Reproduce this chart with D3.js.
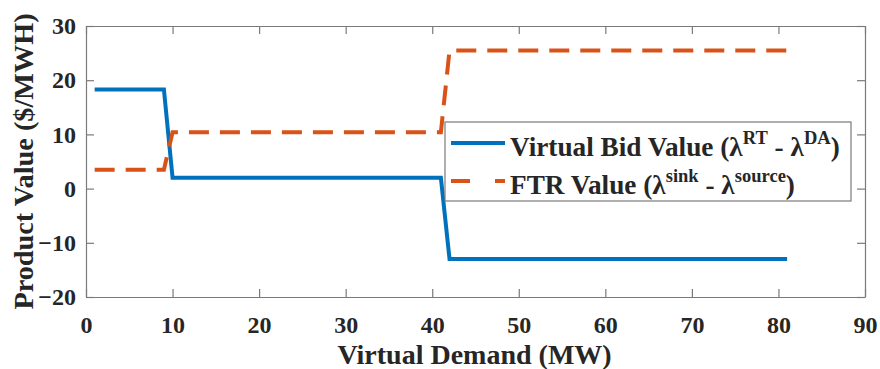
<!DOCTYPE html>
<html>
<head>
<meta charset="utf-8">
<script src="https://cdn.jsdelivr.net/npm/d3@7"></script>
<style>
  body { margin: 0; background: #fff; }
</style>
</head>
<body>
<svg width="880" height="369"></svg>
<script>
// data
const demand = [1, 9, 10, 41, 42, 81];
const bidValue = [18.3, 18.3, 2, 2, -13, -13];
const ftrValue = [3.5, 3.5, 10.4, 10.4, 25.5, 25.5];
const xTicks = [0, 10, 20, 30, 40, 50, 60, 70, 80, 90];
const yTicks = [-20, -10, 0, 10, 20, 30];

// bigger text is drawn at 25px and scaled up
const serif = '"Liberation Serif"';
let svg = d3.select('svg');
let margin = {left: 86, right: 15, top: 26, bottom: 72};
let width = 880, height = 369;
let x = d3.scaleLinear().domain([0, 90]).range([margin.left, width - margin.right]);
let y = d3.scaleLinear().domain([-20, 30]).range([height - margin.bottom, margin.top]);
let axisColor = '#7a7a7a';

let line = d3.line()
  .x(d => x(d.x))
  .y(d => y(d.y));

let bid = demand.map((d, i) => ({x: d, y: bidValue[i]}));
let ftr = demand.map((d, i) => ({x: d, y: ftrValue[i]}));

svg.append('path')
  .attr('d', line(bid))
  .attr('fill', 'none')
  .attr('stroke', '#0072BD')
  .attr('stroke-width', 4);

svg.append('path')
  .attr('d', line(ftr))
  .attr('fill', 'none')
  .attr('stroke', '#D95319')
  .attr('stroke-width', 4)
  .attr('stroke-dasharray', '20,11');

// axes with inward ticks, box on
function styleAxis(g) {
  g.attr('font-family', null);
  g.selectAll('.domain').attr('stroke', axisColor).attr('stroke-width', 1.2);
  g.selectAll('.tick line').attr('stroke', axisColor).attr('stroke-width', 1.2);
  g.selectAll('.tick text')
    .style('font-family', serif)
    .style('font-weight', 'bold')
    .style('font-size', '24px')
    .attr('fill', '#262626');
}
svg.append('g')
  .attr('transform', `translate(0,${y(-20)})`)
  .call(d3.axisBottom(x).tickValues(xTicks).tickSizeInner(-8).tickSizeOuter(0).tickPadding(19))
  .call(styleAxis);

svg.append('g')
  .attr('transform', `translate(${x(0)},0)`)
  .call(d3.axisLeft(y).tickValues(yTicks).tickSizeInner(-8).tickSizeOuter(0).tickPadding(10))
  .call(styleAxis);

svg.append('g')
  .attr('transform', `translate(0,${y(30)})`)
  .call(d3.axisTop(x).tickValues(xTicks).tickSizeInner(-8).tickSizeOuter(0).tickFormat(''))
  .call(styleAxis);
svg.append('g')
  .attr('transform', `translate(${x(90)},0)`)
  .call(d3.axisRight(y).tickValues(yTicks).tickSizeInner(-8).tickSizeOuter(0).tickFormat(''))
  .call(styleAxis);

// axis titles
svg.append('text')
  .attr('transform', `translate(${(x(0) + x(90)) / 2 - 1},364) scale(1.12)`)
  .attr('text-anchor', 'middle')
  .style('font-family', serif).style('font-weight', 'bold').style('font-size', '25px')
  .attr('fill', '#262626')
  .text('Virtual Demand (MW)');

svg.append('text')
  .attr('transform', `translate(33,${(y(30) + y(-20)) / 2}) rotate(-90) scale(1.13)`)
  .attr('text-anchor', 'middle')
  .style('font-family', serif).style('font-weight', 'bold').style('font-size', '25px')
  .attr('fill', '#262626')
  .text('Product Value ($/MWH)');

// legend
let legend = svg.append('g');
legend.append('rect')
  .attr('x', 445).attr('y', 122)
  .attr('width', 406).attr('height', 79)
  .attr('fill', '#fff')
  .attr('stroke', axisColor)
  .attr('stroke-width', 1.2);

let items = [
  {color: '#0072BD', dash: null, y: 143, base: 'Virtual Bid Value (', a: 'RT', b: 'DA'},
  {color: '#D95319', dash: '19,25', y: 181, base: 'FTR Value (', a: 'sink', b: 'source'}
];
items.forEach(it => {
  legend.append('line')
    .attr('x1', 451).attr('x2', 505)
    .attr('y1', it.y).attr('y2', it.y)
    .attr('stroke', it.color)
    .attr('stroke-width', 4)
    .attr('stroke-dasharray', it.dash);
  let t = legend.append('text')
    .attr('transform', `translate(510,${it.y + 13}) scale(1.09)`)
    .style('font-family', serif).style('font-weight', 'bold').style('font-size', '25px')
    .attr('fill', '#262626');
  t.append('tspan').text(it.base + 'λ');
  t.append('tspan').attr('dy', -11).style('font-size', '17px').text(it.a);
  t.append('tspan').attr('dy', 11).text(' - λ');
  t.append('tspan').attr('dy', -11).style('font-size', '17px').text(it.b);
  t.append('tspan').attr('dy', 11).text(')');
});
</script>
</body>
</html>
